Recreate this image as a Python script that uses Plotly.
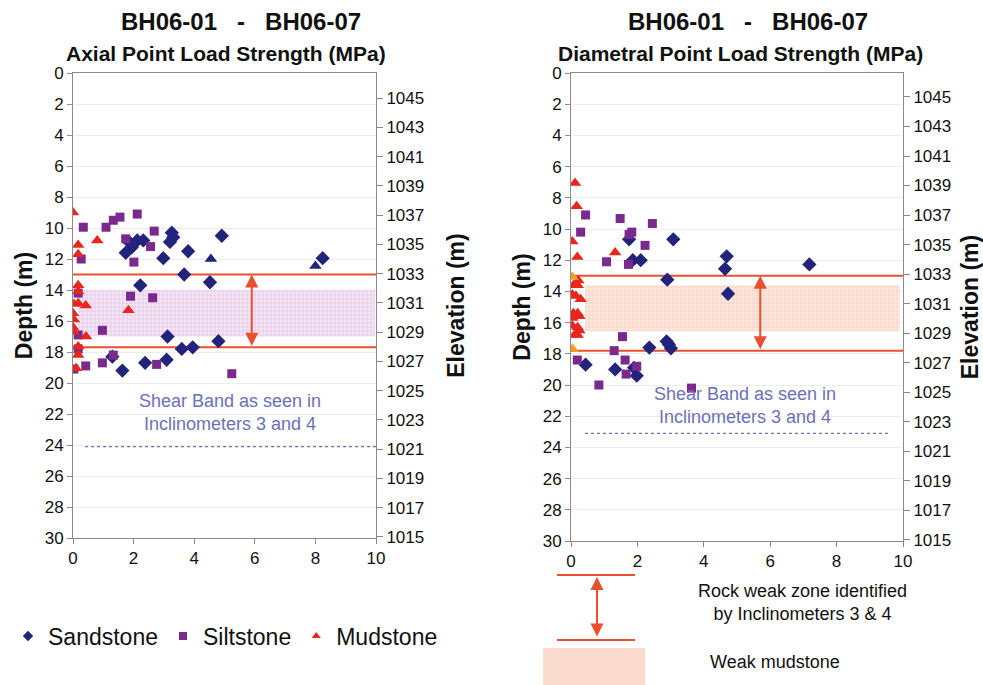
import plotly.graph_objects as go

W, H = 983, 685
FONT = "Liberation Sans, Arial, sans-serif"

# ---------------- data ----------------
# Axial point load strength (MPa) vs depth (m)
sand_ax_x = [3.26, 3.31, 3.2, 4.91, 1.85, 2.12, 2.32, 1.94, 1.74, 2.98, 3.8, 8.24, 3.67, 4.52, 2.22,
             3.12, 4.8, 3.59, 3.95, 3.09, 2.38, 1.3, 1.63]
sand_ax_d = [10.3, 10.6, 10.9, 10.5, 10.9, 10.8, 10.8, 11.25, 11.6, 11.95, 11.5, 11.95, 13.0, 13.5, 13.7,
             17.0, 17.3, 17.8, 17.7, 18.5, 18.7, 18.3, 19.2]
silt_ax_x = [0.34, 1.09, 1.33, 1.55, 2.12, 1.74, 2.68, 2.56, 0.27, 2.01, 1.9, 2.63, 0.17, 0.97, 0.17,
             0.17, 1.33, 0.42, 0.97, 2.76, 0.03, 5.24]
silt_ax_d = [9.95, 9.95, 9.5, 9.3, 9.1, 10.7, 10.2, 11.2, 12.0, 12.2, 14.4, 14.5, 14.2, 16.6, 16.9,
             17.8, 18.2, 18.9, 18.7, 18.8, 19.1, 19.4]
mud_ax_x = [0.0, 0.8, 0.17, 0.17, 0.17, 0.17, 0.03, 0.17, 0.42, 1.83, 0.0, 0.03, 0.0, 0.03, 0.43,
            0.17, 0.17, 0.1]
mud_ax_d = [9.0, 10.8, 11.1, 11.7, 13.7, 14.1, 14.9, 14.85, 15.0, 15.3, 15.5, 15.9, 16.4, 16.7, 17.0,
            17.65, 18.2, 19.05]
other_ax_x = [4.55, 8.0]
other_ax_d = [12.0, 12.45]

# Diametral point load strength (MPa) vs depth (m)
sand_di_x = [1.75, 3.08, 1.86, 2.1, 4.69, 4.64, 7.18, 2.9, 4.73, 2.88, 2.95, 3.01, 2.36, 0.44, 1.33, 1.9, 1.98]
sand_di_d = [10.66, 10.66, 12.0, 12.0, 11.75, 12.55, 12.27, 13.25, 14.15, 17.2, 17.4, 17.65, 17.6, 18.7,
             19.0, 18.9, 19.4]
silt_di_x = [0.44, 0.29, 1.48, 2.45, 1.83, 1.75, 2.23, 1.07, 1.73, 1.55, 1.3, 1.63, 1.98, 1.66, 0.19, 0.84, 3.63]
silt_di_d = [9.1, 10.2, 9.33, 9.65, 10.2, 10.35, 11.05, 12.1, 12.27, 16.9, 17.8, 18.4, 18.8, 19.3, 18.4,
             20.0, 20.2]
mud_di_x = [0.12, 0.17, 0.04, 0.19, 1.33, 0.22, 0.07, 0.2, 0.04, 0.15, 0.29, 0.07, 0.2, 0.25, 0.04,
            0.04, 0.2, 0.25, 0.1, 0.2]
mud_di_d = [7.05, 8.54, 10.8, 11.8, 11.5, 13.3, 13.6, 13.6, 14.2, 14.3, 14.5, 15.4, 15.4, 15.6, 15.7,
            16.2, 16.3, 16.5, 16.8, 16.8]
other_di_x = [0.04, 0.05]
other_di_d = [13.08, 17.7]

# zones (depth, m)
weak_zone_ax = [13.0, 17.7]       # rock weak zone, inclinometers 3 & 4
weak_zone_di = [13.0, 17.8]
mud_band_ax = [14.0, 17.0]        # weak mudstone band
mud_band_di = [13.6, 16.55]
mud_band_ax_x = [0.17, 9.97]
mud_band_di_x = [0.42, 9.9]
shear_ax = 24.1
shear_di = 23.1
shear_ax_x = [0.4, 10.0]
shear_di_x = [0.42, 9.6]
arrow_ax_x = 5.9
arrow_di_x = 5.7

depth_ticks = list(range(0, 31, 2))
elev_ticks = list(range(1015, 1046, 2))
x_ticks = list(range(0, 11, 2))

title_main = "BH06-01\u00a0\u00a0\u00a0-\u00a0\u00a0\u00a0BH06-07"
title_ax = "Axial Point Load Strength (MPa)"
title_di = "Diametral Point Load Strength (MPa)"
shear_text = "Shear Band as seen in<br>Inclinometers 3 and 4"

C_SAND = "#22237a"
C_SILT = "#7a2a8c"
C_MUD = "#e8261c"
C_LINE = "#e8502f"
C_SHEAR = "#6c70b8"
C_AXIS = "#8a8a8a"


def px(x):
    return x / W


def py(y):
    return 1 - y / H


fig = go.Figure()


def add_panel(xa, ya, sx, sd, lx, ld, mx, md, ox, od, ocol, band, band_x, zone, shear, shear_x, arrow_x,
              pat_fg, pat_bg):
    fig.add_trace(go.Scatter(
        x=[band_x[0], band_x[1], band_x[1], band_x[0], band_x[0]],
        y=[band[0], band[0], band[1], band[1], band[0]],
        xaxis=xa, yaxis=ya, mode="lines", fill="toself", line=dict(width=0),
        fillcolor=pat_bg,
        fillpattern=dict(shape="+", fgcolor=pat_fg, bgcolor=pat_bg, size=4, solidity=0.35),
        showlegend=False, hoverinfo="skip"))
    for z in zone:
        fig.add_trace(go.Scatter(x=[0, 10], y=[z, z], xaxis=xa, yaxis=ya, mode="lines",
                                 line=dict(color=C_LINE, width=2), showlegend=False, hoverinfo="skip"))
    fig.add_trace(go.Scatter(x=shear_x, y=[shear, shear], xaxis=xa, yaxis=ya, mode="lines",
                             line=dict(color=C_SHEAR, width=1.3, dash="3px,3px"),
                             showlegend=False, hoverinfo="skip"))
    fig.add_trace(go.Scatter(x=sx, y=sd, xaxis=xa, yaxis=ya, mode="markers", name="Sandstone",
                             marker=dict(symbol="diamond", size=11, color=C_SAND), showlegend=False))
    fig.add_trace(go.Scatter(x=lx, y=ld, xaxis=xa, yaxis=ya, mode="markers", name="Siltstone",
                             marker=dict(symbol="square", size=9, color=C_SILT), showlegend=False))
    fig.add_trace(go.Scatter(x=mx, y=md, xaxis=xa, yaxis=ya, mode="markers", name="Mudstone",
                             marker=dict(symbol="triangle-up", size=11, color=C_MUD), showlegend=False))
    fig.add_trace(go.Scatter(x=ox, y=od, xaxis=xa, yaxis=ya, mode="markers",
                             marker=dict(symbol="triangle-up", size=11, color=ocol), showlegend=False))
    fig.add_annotation(x=arrow_x, y=zone[0], ax=arrow_x, ay=zone[1], xref=xa, yref=ya,
                       axref=xa, ayref=ya, showarrow=True, arrowside="end+start", arrowhead=2,
                       arrowsize=1.3, arrowwidth=2, arrowcolor=C_LINE, text="")


add_panel("x", "y", sand_ax_x, sand_ax_d, silt_ax_x, silt_ax_d, mud_ax_x, mud_ax_d,
          other_ax_x, other_ax_d, C_SAND, mud_band_ax, mud_band_ax_x, weak_zone_ax, shear_ax, shear_ax_x,
          arrow_ax_x, "#dba9dc", "#f4e6f5")
add_panel("x2", "y2", sand_di_x, sand_di_d, silt_di_x, silt_di_d, mud_di_x, mud_di_d,
          other_di_x, other_di_d, "#f2a024", mud_band_di, mud_band_di_x, weak_zone_di, shear_di, shear_di_x,
          arrow_di_x, "#f6b9a3", "#fde8df")

for name, sym, col in [("Sandstone", "diamond", C_SAND), ("Siltstone", "square", C_SILT),
                       ("Mudstone", "triangle-up", C_MUD)]:
    fig.add_trace(go.Scatter(x=[None], y=[None], mode="markers", name=name,
                             marker=dict(symbol=sym, size=8, color=col), showlegend=True))


def note(x, y, text, size, color="#111", xref="paper", yref="paper"):
    fig.add_annotation(x=x, y=y, xref=xref, yref=yref, text=text, showarrow=False,
                       xanchor="center", yanchor="middle",
                       font=dict(size=size, color=color, family=FONT))


note(5.18, 21.9, shear_text, 18, C_SHEAR, "x", "y")
note(5.24, 21.3, shear_text, 18, C_SHEAR, "x2", "y2")

for cx, cx2, sub in [(241, 226, title_ax), (748, 740, title_di)]:
    note(px(cx), py(21), "<b>%s</b>" % title_main, 24)
    note(px(cx2), py(54), "<b>%s</b>" % sub, 21)

for yy in (575, 640):
    fig.add_shape(type="line", xref="paper", yref="paper", x0=px(557), x1=px(635), y0=py(yy), y1=py(yy),
                  line=dict(color=C_LINE, width=2))
fig.add_annotation(x=px(597), y=py(577), ax=0, ay=61, xref="paper", yref="paper", showarrow=True,
                   xanchor="center", yanchor="middle",
                   arrowside="end+start", arrowhead=2, arrowsize=1.3, arrowwidth=2, arrowcolor=C_LINE, text="")
fig.add_shape(type="rect", xref="paper", yref="paper", x0=px(543), x1=px(645), y0=py(648), y1=py(690),
              line=dict(width=0), fillcolor="#fcdccf")
note(px(802), py(602), "Rock weak zone identified<br>by Inclinometers 3 &amp; 4", 18)
note(px(775), py(662), "Weak mudstone", 18)

tickfont = dict(size=17, color="#111", family=FONT)
common_x = dict(range=[0, 10], tickvals=x_ticks, ticks="outside", ticklen=5, tickcolor=C_AXIS,
                showline=True, linecolor=C_AXIS, linewidth=1, mirror=True, showgrid=False,
                zeroline=False, tickfont=tickfont, automargin=False)
common_y = dict(range=[30, 0], tickvals=depth_ticks, ticks="outside", ticklen=5, tickcolor=C_AXIS,
                showline=True, linecolor=C_AXIS, linewidth=1, showgrid=True, gridcolor="#ededed",
                zeroline=False, tickfont=tickfont, automargin=False,
                title=dict(text="<b>Depth (m)</b>", font=dict(size=23, color="#111", family=FONT), standoff=5))
common_e = dict(tickvals=elev_ticks, ticks="outside", ticklen=6, tickcolor=C_AXIS,
                showline=True, linecolor=C_AXIS, linewidth=1, showgrid=False, zeroline=False,
                tickfont=tickfont, side="right", automargin=False,
                title=dict(text="<b>Elevation (m)</b>", font=dict(size=23, color="#111", family=FONT),
                           standoff=24))

fig.update_layout(
    width=W, height=H, margin=dict(l=0, r=0, t=0, b=0, autoexpand=False),
    paper_bgcolor="white", plot_bgcolor="white",
    font=dict(family=FONT, color="#111"),
    xaxis=dict(domain=[px(73), px(376)], anchor="y", **common_x),
    yaxis=dict(domain=[py(538), py(73)], anchor="x", **common_y),
    xaxis2=dict(domain=[px(571), px(903)], anchor="y2", **common_x),
    yaxis2=dict(domain=[py(541), py(73)], anchor="x2", **common_y),
    yaxis3=dict(overlaying="y", anchor="x", range=[1014.93, 1046.71], **common_e),
    yaxis4=dict(overlaying="y2", anchor="x2", range=[1014.93, 1046.62], **common_e),
    legend=dict(orientation="h", x=px(8), y=py(636), xanchor="left", yanchor="middle",
                font=dict(size=23, color="#111", family=FONT), bgcolor="rgba(0,0,0,0)",
                itemwidth=30, tracegroupgap=0),
    showlegend=True,
)

fig.add_trace(go.Scatter(x=[None], y=[None], xaxis="x", yaxis="y3", showlegend=False, hoverinfo="skip"))
fig.add_trace(go.Scatter(x=[None], y=[None], xaxis="x2", yaxis="y4", showlegend=False, hoverinfo="skip"))

fig.write_html("out.html")
